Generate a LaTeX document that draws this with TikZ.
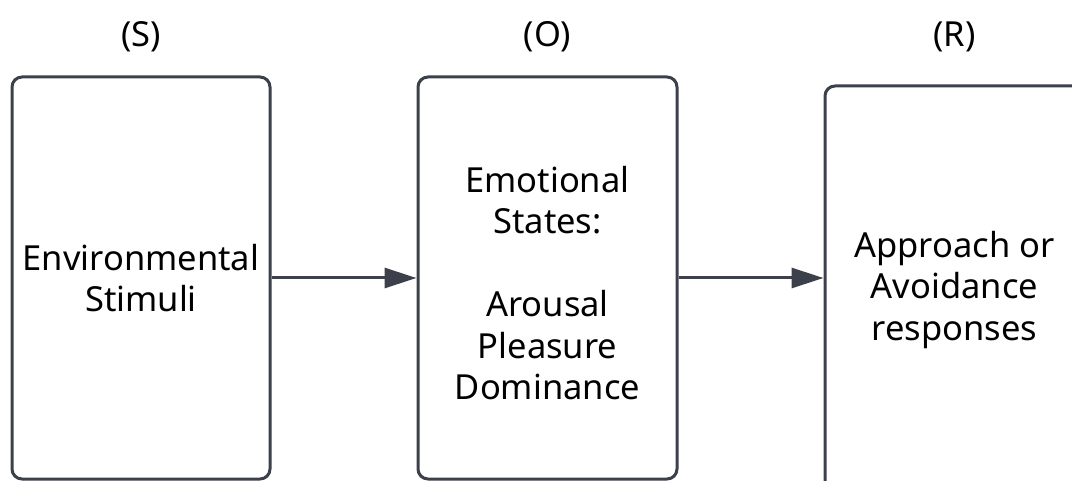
\documentclass[tikz,border=0pt]{standalone}
\usepackage{fontspec}
\setmainfont{Noto Sans}
\usetikzlibrary{arrows.meta}
\definecolor{edgec}{HTML}{3B404A}
\begin{document}
\begin{tikzpicture}[x=1pt,y=-1pt,
  stagebox/.style={draw=edgec, line width=3pt, rounded corners=10pt, rectangle, inner sep=0pt},
  txt/.style={align=center, font=\fontsize{34.5}{41.5}\selectfont, text=black},
  lbl/.style={font=\fontsize{34.5}{40}\selectfont, text=black},
  flow/.style={draw=edgec, line width=3pt, -{Triangle[length=32pt,width=20pt]}}]
\useasboundingbox (0,0) rectangle (1072,481);
\clip (0,0) rectangle (1072,481);
\node[stagebox, minimum width=258pt, minimum height=402pt] (S) at (141,278) {};
\node[stagebox, minimum width=259pt, minimum height=402pt] (O) at (547.5,278) {};
\node[stagebox, minimum width=259pt, minimum height=440pt] (R) at (954.5,306) {};
\node[txt] (Stext) at (141,278) {Environmental\\Stimuli};
\node[txt] (Otext) at (547.5,283) {Emotional\\States:\\[41.5pt]Arousal\\Pleasure\\Dominance};
\node[txt] (Rtext) at (954.5,290) {Approach or\\Avoidance\\responses};
\node[lbl] (Sl) at (141,37) {(S)};
\node[lbl] (Ol) at (547.5,37) {(O)};
\node[lbl] (Rl) at (954.5,37) {(R)};
\draw[flow] (S.east) -- (O.west);
\draw[flow] (O.east) -- (O.east -| R.west);
\end{tikzpicture}
\end{document}
